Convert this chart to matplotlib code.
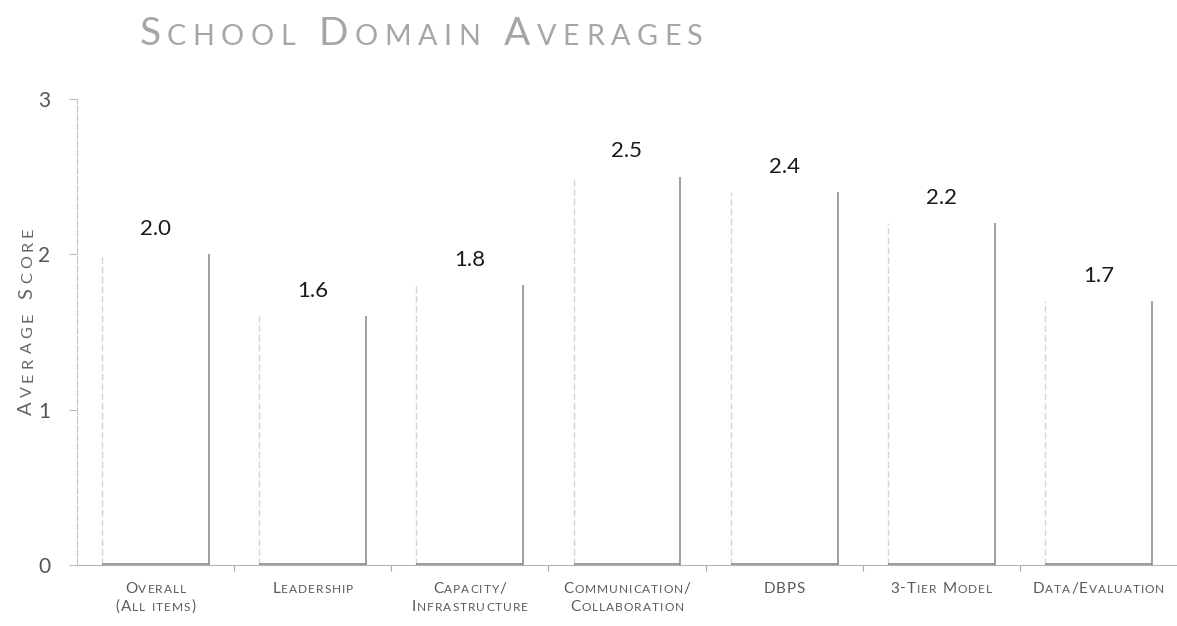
import matplotlib
matplotlib.use("Agg")
import matplotlib.pyplot as plt
from matplotlib.transforms import IdentityTransform

categories = [
    ["Overall", "(All items)"],
    ["Leadership"],
    ["Capacity/", "Infrastructure"],
    ["Communication/", "Collaboration"],
    ["DBPS"],
    ["3-Tier Model"],
    ["Data/Evaluation"],
]
scores = [2.0, 1.6, 1.8, 2.5, 2.4, 2.2, 1.7]
yticks = [0, 1, 2, 3]

plt.rcParams['font.family'] = ['Lato', 'DejaVu Sans']

W, H = 1177, 626
fig = plt.figure(figsize=(W / 100, H / 100), dpi=100)
ax = fig.add_axes([77 / W, 61 / H, 1100 / W, 466 / H])
renderer = fig.canvas.get_renderer()


def text_width(s, size):
    t = fig.text(0, 0, s, fontsize=size, transform=IdentityTransform())
    w = t.get_window_extent(renderer).width
    t.remove()
    return w


def advance(s, size):
    # width including side bearings: measure between two bars
    return text_width("H" + s + "H", size) - text_width("HH", size)


def small_caps(x, y, text, size, color, rotation=0, ratio=0.78, track=0.0):
    # fake small caps, each char drawn separately so letters can be spaced out
    # x, y are pixel positions of the centre of the baseline
    chars = []
    for ch in text:
        sz = size * ratio if ch.islower() else size
        w = advance(ch.upper(), sz) if ch != " " else 0.28 * size * 100 / 72
        chars.append((ch.upper(), sz, w))
    total = sum(w for _, _, w in chars) + track * (len(chars) - 1)
    pos = -total / 2
    for ch, sz, w in chars:
        if ch != " ":
            xy = (x, y + pos) if rotation else (x + pos, y)
            fig.text(*xy, ch, fontsize=sz, color=color,
                     transform=IdentityTransform(), ha="left", va="baseline",
                     rotation=rotation, rotation_mode="anchor")
        pos += w + track


x = list(range(len(scores)))
half = 0.34
ax.bar(x, scores, width=2 * half, color="white", edgecolor="none")
ax.vlines([i - half for i in x], 0, scores, color="#d6d6d6", linewidth=1.0,
          linestyles=(0, (5, 2)))
ax.vlines([i + half for i in x], 0, scores, color="#8f8f8f", linewidth=1.2)
ax.hlines([0.004] * len(x), [i - half for i in x], [i + half for i in x],
          color="#8a8a8a", linewidth=1.2)

for i, v in zip(x, scores):
    ax.annotate(f"{v:.1f}", (i, v), xytext=(0, 11), textcoords="offset points",
                ha="center", va="bottom", fontsize=16, color="#1a1a1a")

ax.set_xlim(-0.5, len(scores) - 0.5)
ax.set_ylim(0, 3)
ax.set_yticks(yticks)
ax.set_yticklabels([str(t) for t in yticks], fontsize=15, color="#555555")
ax.tick_params(axis="y", length=6, width=0.8, color="#bbbbbb", pad=13)
ax.set_xticks([i + 0.5 for i in x[:-1]])
ax.set_xticklabels([])
ax.tick_params(axis="x", length=4, width=0.8, color="#aaaaaa")

for side in ["top", "right"]:
    ax.spines[side].set_visible(False)
ax.spines["left"].set_color("#c4c4c4")
ax.spines["left"].set_linestyle((0, (6, 2)))
ax.spines["bottom"].set_color("#b4b4b4")

# category labels
for i, lines in enumerate(categories):
    px, py = ax.transData.transform((i, 0))
    for k, line in enumerate(lines):
        small_caps(px, py - 28 - k * 18, line, 11, "#5a5a5a", track=1.0)

# title and y label
small_caps(421, H - 45, "School Domain Averages", 28, "#a6a6a6", ratio=0.74, track=6.5)
small_caps(32, H - 321, "Average Score", 14.5, "#666666", rotation=90, ratio=0.8, track=4.3)

fig.savefig("out.png", dpi=100)
